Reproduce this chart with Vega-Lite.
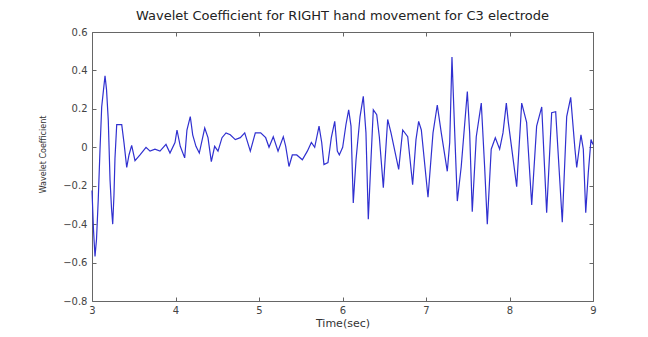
{
  "$schema": "https://vega.github.io/schema/vega-lite/v6.json",
  "width": 501,
  "height": 269,
  "autosize": {"type": "none"},
  "padding": {"left": 92, "top": 32, "right": 55, "bottom": 36},
  "background": "white",
  "title": {
    "text": "Wavelet Coefficient for RIGHT hand movement for C3 electrode",
    "font": "DejaVu Sans",
    "fontSize": 13,
    "fontWeight": "normal",
    "color": "#222222",
    "anchor": "middle",
    "offset": 4
  },
  "config": {
    "view": {"stroke": "#666666", "strokeWidth": 1},
    "axis": {
      "domain": false,
      "grid": false,
      "tickColor": "#666666",
      "labelFont": "DejaVu Sans",
      "labelFontSize": 10,
      "labelColor": "#444444",
      "titleFont": "DejaVu Sans",
      "titleFontWeight": "normal",
      "titleColor": "#333333"
    }
  },
  "data": {
    "values": [
      {"t": 3.000, "v": -0.225}, {"t": 3.018, "v": -0.43}, {"t": 3.036, "v": -0.568}, {"t": 3.054, "v": -0.48},
      {"t": 3.075, "v": -0.27}, {"t": 3.096, "v": -0.01}, {"t": 3.116, "v": 0.21}, {"t": 3.138, "v": 0.30},
      {"t": 3.156, "v": 0.372}, {"t": 3.174, "v": 0.30}, {"t": 3.195, "v": 0.14}, {"t": 3.216, "v": -0.17},
      {"t": 3.234, "v": -0.32}, {"t": 3.248, "v": -0.40}, {"t": 3.263, "v": -0.25}, {"t": 3.275, "v": -0.06},
      {"t": 3.296, "v": 0.118}, {"t": 3.356, "v": 0.118}, {"t": 3.383, "v": 0.024}, {"t": 3.416, "v": -0.105},
      {"t": 3.443, "v": -0.04}, {"t": 3.475, "v": 0.01}, {"t": 3.515, "v": -0.07}, {"t": 3.575, "v": -0.04},
      {"t": 3.647, "v": 0.0}, {"t": 3.695, "v": -0.02}, {"t": 3.754, "v": -0.01}, {"t": 3.814, "v": -0.02},
      {"t": 3.886, "v": 0.015}, {"t": 3.934, "v": -0.03}, {"t": 3.994, "v": 0.025}, {"t": 4.018, "v": 0.09},
      {"t": 4.057, "v": 0.005}, {"t": 4.110, "v": -0.055}, {"t": 4.137, "v": 0.09}, {"t": 4.177, "v": 0.16},
      {"t": 4.206, "v": 0.065}, {"t": 4.245, "v": 0.005}, {"t": 4.285, "v": -0.03}, {"t": 4.350, "v": 0.10},
      {"t": 4.389, "v": 0.05}, {"t": 4.429, "v": -0.075}, {"t": 4.469, "v": 0.005}, {"t": 4.509, "v": -0.02},
      {"t": 4.557, "v": 0.05}, {"t": 4.605, "v": 0.075}, {"t": 4.656, "v": 0.065}, {"t": 4.716, "v": 0.04},
      {"t": 4.776, "v": 0.05}, {"t": 4.829, "v": 0.075}, {"t": 4.896, "v": -0.02}, {"t": 4.956, "v": 0.075},
      {"t": 5.020, "v": 0.075}, {"t": 5.080, "v": 0.05}, {"t": 5.120, "v": 0.0}, {"t": 5.171, "v": 0.055},
      {"t": 5.228, "v": -0.02}, {"t": 5.291, "v": 0.055}, {"t": 5.320, "v": 0.005}, {"t": 5.359, "v": -0.10},
      {"t": 5.399, "v": -0.04}, {"t": 5.452, "v": -0.04}, {"t": 5.519, "v": -0.065}, {"t": 5.579, "v": -0.02},
      {"t": 5.627, "v": 0.025}, {"t": 5.667, "v": 0.0}, {"t": 5.719, "v": 0.11}, {"t": 5.751, "v": 0.025},
      {"t": 5.778, "v": -0.09}, {"t": 5.826, "v": -0.08}, {"t": 5.866, "v": 0.05}, {"t": 5.907, "v": 0.135},
      {"t": 5.938, "v": -0.02}, {"t": 5.962, "v": -0.04}, {"t": 6.002, "v": 0.0}, {"t": 6.042, "v": 0.12},
      {"t": 6.074, "v": 0.195}, {"t": 6.102, "v": 0.11}, {"t": 6.129, "v": -0.29}, {"t": 6.162, "v": -0.065},
      {"t": 6.210, "v": 0.16}, {"t": 6.249, "v": 0.265}, {"t": 6.281, "v": 0.075}, {"t": 6.309, "v": -0.375},
      {"t": 6.341, "v": -0.065}, {"t": 6.369, "v": 0.195}, {"t": 6.410, "v": 0.17}, {"t": 6.441, "v": 0.055},
      {"t": 6.489, "v": -0.21}, {"t": 6.541, "v": 0.145}, {"t": 6.581, "v": 0.075}, {"t": 6.673, "v": -0.115},
      {"t": 6.721, "v": 0.09}, {"t": 6.781, "v": 0.055}, {"t": 6.840, "v": -0.195}, {"t": 6.880, "v": 0.04},
      {"t": 6.912, "v": 0.135}, {"t": 6.944, "v": 0.09}, {"t": 7.024, "v": -0.26}, {"t": 7.084, "v": 0.075},
      {"t": 7.135, "v": 0.22}, {"t": 7.183, "v": 0.075}, {"t": 7.255, "v": -0.125}, {"t": 7.284, "v": 0.025},
      {"t": 7.311, "v": 0.47}, {"t": 7.344, "v": 0.075}, {"t": 7.375, "v": -0.28}, {"t": 7.422, "v": -0.10},
      {"t": 7.495, "v": 0.29}, {"t": 7.523, "v": 0.075}, {"t": 7.554, "v": -0.335}, {"t": 7.602, "v": 0.055},
      {"t": 7.662, "v": 0.23}, {"t": 7.702, "v": -0.10}, {"t": 7.734, "v": -0.40}, {"t": 7.781, "v": -0.01},
      {"t": 7.830, "v": 0.05}, {"t": 7.882, "v": -0.01}, {"t": 7.922, "v": 0.075}, {"t": 7.962, "v": 0.23},
      {"t": 7.986, "v": 0.13}, {"t": 8.086, "v": -0.205}, {"t": 8.146, "v": 0.23}, {"t": 8.205, "v": 0.13},
      {"t": 8.266, "v": -0.30}, {"t": 8.325, "v": 0.11}, {"t": 8.386, "v": 0.21}, {"t": 8.445, "v": -0.34},
      {"t": 8.505, "v": 0.18}, {"t": 8.553, "v": 0.185}, {"t": 8.632, "v": -0.39}, {"t": 8.685, "v": 0.16},
      {"t": 8.733, "v": 0.26}, {"t": 8.784, "v": -0.01}, {"t": 8.805, "v": -0.105}, {"t": 8.856, "v": 0.065},
      {"t": 8.884, "v": -0.01}, {"t": 8.913, "v": -0.34}, {"t": 8.944, "v": -0.13}, {"t": 8.976, "v": 0.04},
      {"t": 9.000, "v": 0.015}
    ]
  },
  "resolve": {"axis": {"x": "independent", "y": "independent"}},
  "layer": [
    {
      "mark": {"type": "line", "color": "#3030d0", "strokeWidth": 1.2, "interpolate": "linear"},
      "encoding": {
        "x": {
          "field": "t",
          "type": "quantitative",
          "scale": {"domain": [3, 9], "nice": false, "zero": false},
          "axis": {
            "title": "Time(sec)",
            "titleFontSize": 11,
            "titlePadding": 2,
            "values": [3, 4, 5, 6, 7, 8, 9],
            "tickSize": -4,
            "labelPadding": 8,
            "labelFlush": false
          }
        },
        "y": {
          "field": "v",
          "type": "quantitative",
          "scale": {"domain": [-0.8, 0.6], "nice": false, "zero": false},
          "axis": {
            "title": "Wavelet Coefficient",
            "titleFontSize": 8,
            "titleX": -49,
            "titleY": 122,
            "titleBaseline": "middle",
            "values": [-0.8, -0.6, -0.4, -0.2, 0, 0.2, 0.4, 0.6],
            "format": "~g",
            "tickSize": -4,
            "labelPadding": 9,
            "labelFlush": false
          }
        }
      }
    },
    {
      "mark": {"type": "line", "strokeOpacity": 0},
      "encoding": {
        "x": {
          "field": "t",
          "type": "quantitative",
          "axis": {"orient": "top", "title": null, "labels": false, "values": [3, 4, 5, 6, 7, 8, 9], "tickSize": -4}
        },
        "y": {
          "field": "v",
          "type": "quantitative",
          "axis": {"orient": "right", "title": null, "labels": false, "values": [-0.8, -0.6, -0.4, -0.2, 0, 0.2, 0.4, 0.6], "tickSize": -4}
        }
      }
    }
  ]
}
